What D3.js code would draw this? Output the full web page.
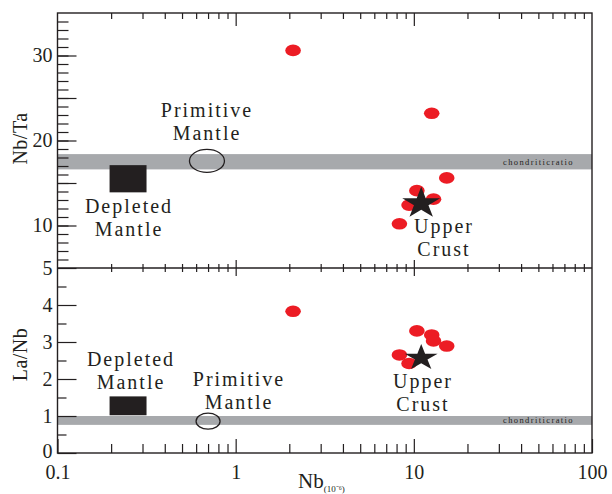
<!DOCTYPE html>
<html>
<head>
<meta charset="utf-8">
<script src="https://cdn.jsdelivr.net/npm/d3@7"></script>
<style>
body { margin: 0; background: #fff; }
svg { display: block; }
</style>
</head>
<body>
<svg id="chart"></svg>
<script>
// samples (Nb in 10^-6, ratios)
const nb   = [2.1, 12.6, 15.3, 10.4, 12.9, 9.4, 8.3];
const nbTa = [30.6, 23.2, 15.6, 14.1, 13.1, 12.4, 10.2];
const laNb = [3.83, 3.19, 2.89, 3.30, 3.03, 2.42, 2.65];

// reference reservoirs
const depletedNb   = [0.196, 0.316];
const depletedNbTa = [13.9, 17.1];
const depletedLaNb = [1.02, 1.53];
const primitiveNb = [0.69, 0.70];      // top, bottom
const primitiveRatio = [17.6, 0.86];
const crustNb = 11;
const crustRatio = [12.6, 2.57];
const chondNbTa = [16.6, 18.4];
const chondLaNb = [0.76, 1.0];

// ticks
const xLabels = [0.1, 1, 10, 100];
const yTopLabels = [10, 20, 30];
const yTopMajor = [10, 15, 20, 25, 30];
const yBotLabels = [0, 1, 2, 3, 4, 5];

const size = {w: 612, h: 494};
const box = {l: 57.5, r: 592, t: 13, m: 268, b: 453};
const ink = '#231f20';
const serif = '"Liberation Serif", "Times New Roman", Times, serif';

const svg = d3.select('svg#chart')
    .attr('width', size.w)
    .attr('height', size.h)
    .style('font-family', serif);

const x = d3.scaleLog().domain([0.1, 100]).range([box.l, box.r]);
const yTop = d3.scaleLinear().domain([5, 35]).range([box.m, box.t]);
const yBot = d3.scaleLinear().domain([0, 5]).range([box.b, box.m]);

const xMinor = x.ticks().filter(v => !xLabels.includes(v));

// chondritic bands
svg.append('rect')
    .attr('x', box.l).attr('width', box.r - box.l)
    .attr('y', yTop(chondNbTa[1])).attr('height', yTop(chondNbTa[0]) - yTop(chondNbTa[1]))
    .attr('fill', '#a7a9ac');
svg.append('rect')
    .attr('x', box.l).attr('width', box.r - box.l)
    .attr('y', yBot(chondLaNb[1])).attr('height', yBot(chondLaNb[0]) - yBot(chondLaNb[1]))
    .attr('fill', '#a7a9ac');

svg.selectAll('text.chond')
    .data([yTop(d3.mean(chondNbTa)), yBot(d3.mean(chondLaNb))])
    .join('text')
    .classed('chond', true)
    .attr('x', 574)
    .attr('y', d => d + 3)
    .attr('text-anchor', 'end')
    .attr('fill', ink)
    .style('font-family', serif)
    .style('font-size', '8.5px')
    .style('letter-spacing', '1.4px')
    .text('chondriticratio');

// axes helper
function drawAxis(axis, tx, ty, labels) {
    const g = svg.append('g')
        .attr('transform', `translate(${tx},${ty})`)
        .call(axis)
        .attr('font-family', serif)
        .attr('font-size', 20);
    g.select('.domain').remove();
    g.selectAll('line').attr('stroke', ink).attr('stroke-width', 1.2);
    if (!labels) g.selectAll('text').remove();
    else g.selectAll('text')
        .attr('fill', ink)
        .style('font-family', serif)
        .style('font-size', '20px');
    return g;
}

const fmt = d3.format('~g');

// left axes
drawAxis(d3.axisLeft(yTop).tickValues(d3.range(6, 35)).tickSizeInner(-11).tickSizeOuter(0), box.l, 0, false);
drawAxis(d3.axisLeft(yTop).tickValues(yTopMajor).tickSizeInner(-19).tickSizeOuter(0), box.l, 0, false);
drawAxis(d3.axisLeft(yTop).tickValues(yTopLabels).tickSize(0).tickPadding(5).tickFormat(fmt), box.l, 0, true);
drawAxis(d3.axisLeft(yBot).tickValues(d3.range(0.5, 5, 1)).tickSizeInner(-9).tickSizeOuter(0), box.l, 0, false);
const yBotAxis = drawAxis(d3.axisLeft(yBot).tickValues(yBotLabels).tickSizeInner(-19).tickSizeOuter(0).tickPadding(5).tickFormat(fmt), box.l, 0, true);
// lift the "0" a touch so it clears the 0.1 below it
yBotAxis.selectAll('.tick').filter(d => d === 0).select('text').attr('y', -2);

// top edge
drawAxis(d3.axisTop(x).tickValues(xMinor).tickSizeInner(-6).tickSizeOuter(0), 0, box.t, false);
drawAxis(d3.axisTop(x).tickValues([1, 10]).tickSizeInner(-13).tickSizeOuter(0), 0, box.t, false);
// shared middle line
drawAxis(d3.axisBottom(x).tickValues(xMinor).tickSizeInner(-4).tickSizeOuter(0), 0, box.m, false);
drawAxis(d3.axisBottom(x).tickValues([1, 10]).tickSizeInner(-8).tickSizeOuter(0), 0, box.m, false);
drawAxis(d3.axisTop(x).tickValues(xMinor).tickSizeInner(-4).tickSizeOuter(0), 0, box.m, false);
drawAxis(d3.axisTop(x).tickValues([1, 10]).tickSizeInner(-8).tickSizeOuter(0), 0, box.m, false);
// bottom edge
drawAxis(d3.axisBottom(x).tickValues(xMinor).tickSizeInner(-9).tickSizeOuter(0), 0, box.b, false);
drawAxis(d3.axisBottom(x).tickValues(xLabels).tickSizeInner(-14).tickSizeOuter(0).tickPadding(12)
    .tickFormat(fmt), 0, box.b, true);

// frames
svg.append('rect')
    .attr('x', box.l).attr('y', box.t)
    .attr('width', box.r - box.l).attr('height', box.b - box.t)
    .attr('fill', 'none').attr('stroke', ink).attr('stroke-width', 1.4);
svg.append('line')
    .attr('x1', box.l).attr('x2', box.r)
    .attr('y1', box.m).attr('y2', box.m)
    .attr('stroke', ink).attr('stroke-width', 1.4);

// axis titles
function title(txt, tx, ty) {
    svg.append('text')
        .attr('transform', `translate(${tx},${ty}) rotate(-90)`)
        .attr('text-anchor', 'middle')
        .attr('fill', ink)
        .style('font-family', serif)
        .style('font-size', '20px').style('letter-spacing', '0.5px')
        .text(txt);
}
title('Nb/Ta', 27, (box.t + box.m) / 2 - 2);
title('La/Nb', 27, (box.m + box.b) / 2 - 6);

const xt = svg.append('text')
    .attr('x', 298).attr('y', 488)
    .attr('fill', ink)
    .style('font-family', serif)
    .style('font-size', '21px');
xt.append('tspan').text('Nb');
xt.append('tspan').attr('dy', 4).style('font-size', '9px').text('(10⁻⁶)');

// depleted mantle
svg.append('rect')
    .attr('x', x(depletedNb[0])).attr('width', x(depletedNb[1]) - x(depletedNb[0]))
    .attr('y', yTop(depletedNbTa[1])).attr('height', yTop(depletedNbTa[0]) - yTop(depletedNbTa[1]))
    .attr('fill', ink);
svg.append('rect')
    .attr('x', x(depletedNb[0])).attr('width', x(depletedNb[1]) - x(depletedNb[0]))
    .attr('y', yBot(depletedLaNb[1])).attr('height', yBot(depletedLaNb[0]) - yBot(depletedLaNb[1]))
    .attr('fill', ink);

// primitive mantle
svg.append('ellipse')
    .attr('cx', x(primitiveNb[0])).attr('cy', yTop(primitiveRatio[0]))
    .attr('rx', 17.5).attr('ry', 11.5)
    .attr('fill', 'none').attr('stroke', ink).attr('stroke-width', 1.3);
svg.append('ellipse')
    .attr('cx', x(primitiveNb[1])).attr('cy', yBot(primitiveRatio[1]))
    .attr('rx', 12).attr('ry', 8)
    .attr('fill', 'none').attr('stroke', ink).attr('stroke-width', 1.3);

// samples
svg.selectAll('ellipse.top')
    .data(nb.map((d, i) => [d, nbTa[i]]))
    .join('ellipse')
    .classed('top', true)
    .attr('cx', d => x(d[0])).attr('cy', d => yTop(d[1]))
    .attr('rx', 7.8).attr('ry', 5.8)
    .attr('fill', '#ec1c24');
svg.selectAll('ellipse.bot')
    .data(nb.map((d, i) => [d, laNb[i]]))
    .join('ellipse')
    .classed('bot', true)
    .attr('cx', d => x(d[0])).attr('cy', d => yBot(d[1]))
    .attr('rx', 7.8).attr('ry', 5.8)
    .attr('fill', '#ec1c24');

// upper crust stars
svg.append('path')
    .attr('d', d3.symbol().type(d3.symbolStar).size(309)())
    .attr('transform', `translate(${x(crustNb)},${yTop(crustRatio[0])}) scale(1.2,1)`)
    .attr('fill', ink);
svg.append('path')
    .attr('d', d3.symbol().type(d3.symbolStar).size(214)())
    .attr('transform', `translate(${x(crustNb)},${yBot(crustRatio[1])}) scale(1.25,1)`)
    .attr('fill', ink);

// labels
function label(lines, cx, y) {
    svg.append('text')
        .attr('text-anchor', 'middle')
        .attr('fill', ink)
        .style('font-family', serif)
        .style('font-size', '20px')
        .style('letter-spacing', '2px')
        .selectAll('tspan')
        .data(lines)
        .join('tspan')
        .attr('x', cx)
        .attr('y', (d, i) => y + i * 22.5)
        .text(d => d);
}
label(['Depleted', 'Mantle'], 129, 213);
label(['Depleted', 'Mantle'], 131, 366);
label(['Primitive', 'Mantle'], 207, 117);
label(['Primitive', 'Mantle'], 239, 386);
label(['Upper', 'Crust'], 444, 233);
label(['Upper', 'Crust'], 423, 388);
</script>
</body>
</html>
